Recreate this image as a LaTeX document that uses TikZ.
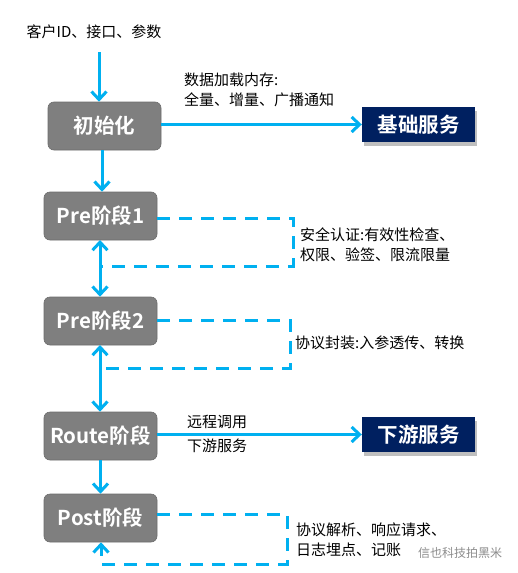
\documentclass[tikz,border=0pt]{standalone}
\usepackage{fontspec}
\setmainfont{Noto Sans CJK SC}[BoldFont={* Bold}]
\usetikzlibrary{arrows.meta,shadows}
\definecolor{cyanline}{HTML}{00B0F0}
\definecolor{boxgray}{HTML}{7F7F7F}
\definecolor{navy}{HTML}{002060}
\tikzset{
  stage/.style={draw=boxgray!85!black, line width=0.6pt, fill=boxgray, rounded corners=6pt,
    minimum width=113pt, minimum height=48pt, inner sep=0pt,
    text=white, font=\fontsize{20.5}{24}\selectfont\bfseries},
  svc/.style={fill=navy, minimum width=113pt, minimum height=35pt, inner sep=0pt,
    text=white, font=\fontsize{20.5}{24}\selectfont\bfseries,
    drop shadow={opacity=0.25, shadow xshift=2pt, shadow yshift=-4pt, fill=black}},
  flow/.style={draw=cyanline, line width=3pt, -{Straight Barb[length=8pt,width=15pt,line width=3pt]}},
  flow2/.style={draw=cyanline, line width=3pt, {Straight Barb[length=8pt,width=15pt,line width=3pt]}-{Straight Barb[length=8pt,width=15pt,line width=3pt]}},
  loop/.style={draw=cyanline, line width=3pt, dash pattern=on 13pt off 9pt},
  loopa/.style={loop, -{Straight Barb[length=8pt,width=15pt,line width=3pt]}},
  lbl/.style={align=left, inner sep=0pt, font=\fontsize{15}{20}\selectfont},
}
\begin{document}
\begin{tikzpicture}[x=1pt,y=-1pt]
\useasboundingbox[fill=white] (0,0) rectangle (517,573);
\node[inner sep=0pt, font=\fontsize{15}{18}\selectfont] (title) at (94,32) {客户ID、接口、参数};
\node[stage] (init) at (104.5,126) {初始化};
\node[stage] (pre1) at (100.5,216) {Pre阶段1};
\node[stage] (pre2) at (100.5,321) {Pre阶段2};
\node[stage] (route) at (100.5,436) {Route阶段};
\node[stage] (post) at (100.5,518) {Post阶段};
\node[svc] (base) at (418.5,124.5) {基础服务};
\node[svc] (down) at (418.5,434.5) {下游服务};

\coordinate (in) at (99,52);
\draw[flow] (in) -- (in |- init.north);
\draw[flow] (init.east |- base.west) -- (base.west);
\draw[flow] (102,150) coordinate (ib) -- (ib |- pre1.north);
\draw[flow2] (100,240) coordinate (p1b) -- (p1b |- pre2.north);
\draw[flow2] (100,345) coordinate (p2b) -- (p2b |- route.north);
\draw[flow] (route.east |- down.west) -- (down.west);
\draw[flow] (route.south) -- (post.north);

% dashed loops
\coordinate (l1a) at (293,218);
\coordinate (l1b) at (293,266);
\coordinate (l1c) at (102,266);
\draw[loop] (pre1.east |- l1a) -- (l1a) -- (l1b) -- (l1c);
\coordinate (l2a) at (290,320);
\coordinate (l2b) at (290,368);
\coordinate (l2c) at (102,368);
\draw[loop] (pre2.east |- l2a) -- (l2a) -- (l2b) -- (l2c);
\coordinate (l3a) at (287,514);
\coordinate (l3b) at (287,564);
\coordinate (l3c) at (101,564);
\draw[loopa] (post.east |- l3a) -- (l3a) -- (l3b) -- (l3c) -- (l3c |- post.south);

% labels
\node[lbl, anchor=north west] (lab1) at (184,73) {数据加载内存:\\全量、增量、广播通知};
\node[lbl, anchor=north west] (lab2) at (300,228) {安全认证:有效性检查、\\权限、验签、限流限量};
\node[lbl, anchor=west] (lab3) at (295,343) {协议封装:入参透传、转换};
\node[lbl, anchor=north west, font=\fontsize{15}{24}\selectfont] (lab4) at (187,415) {远程调用\\下游服务};
\node[lbl, anchor=north west] (lab5) at (296,523) {协议解析、响应请求、\\日志埋点、记账};
\node[inner sep=0pt, anchor=west, text=black!45, font=\fontsize{12}{14}\selectfont] (wm) at (418,553) {信也科技拍黑米};
\end{tikzpicture}
\end{document}
